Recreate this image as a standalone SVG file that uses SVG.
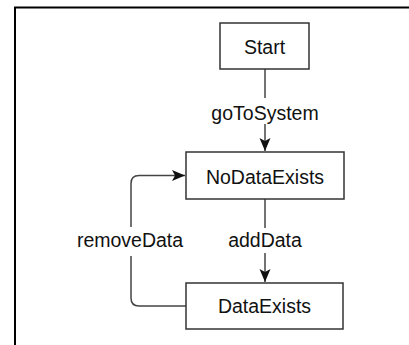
<svg xmlns="http://www.w3.org/2000/svg" width="409" height="345" viewBox="0 0 409 345">
  <style>
    .node rect { fill: #ffffff; stroke: #333333; stroke-width: 1.5; }
    .node text, .label { font-family: "Liberation Sans", Arial, sans-serif; font-size: 19.5px; fill: #111111; text-anchor: middle; }
    .edge { fill: none; stroke: #444444; stroke-width: 1.5; }
    .bg { fill: #ffffff; }
  </style>
  <defs>
    <marker id="arrow" markerUnits="userSpaceOnUse" markerWidth="14" markerHeight="12" viewBox="-13 -6 14 12" refX="0" refY="0" orient="auto">
      <path d="M -13,-5.5 L 0,0 L -13,5.5 L -10,0 Z" fill="#111111"/>
    </marker>
  </defs>

  <rect width="409" height="345" fill="#ffffff"/>

  <!-- enclosing frame -->
  <path d="M 15,345 V 7.5 H 409" fill="none" stroke="#000000" stroke-width="2"/>

  <!-- connectors -->
  <g id="connectors">
    <path class="edge" d="M 265,69 V 151" marker-end="url(#arrow)"/>
    <path class="edge" d="M 265,199 V 282" marker-end="url(#arrow)"/>
    <path class="edge" d="M 186,306 H 139 Q 131,306 131,298 V 183.5 Q 131,175.5 139,175.5 H 185" marker-end="url(#arrow)"/>

    <rect class="bg" x="206" y="98" width="118" height="26"/>
    <text class="label" x="265" y="120">goToSystem</text>

    <rect class="bg" x="224" y="228" width="82" height="25"/>
    <text class="label" x="265" y="247">addData</text>

    <rect class="bg" x="73" y="227" width="115" height="29"/>
    <text class="label" x="130" y="247">removeData</text>
  </g>

  <!-- nodes -->
  <g id="start" class="node">
    <rect x="220" y="23" width="89" height="46"/>
    <text x="264.5" y="54">Start</text>
  </g>
  <g id="no-data-exists" class="node">
    <rect x="186" y="152" width="158" height="47"/>
    <text x="265" y="184">NoDataExists</text>
  </g>
  <g id="data-exists" class="node">
    <rect x="186" y="283" width="157" height="46"/>
    <text x="264.5" y="313">DataExists</text>
  </g>
</svg>
